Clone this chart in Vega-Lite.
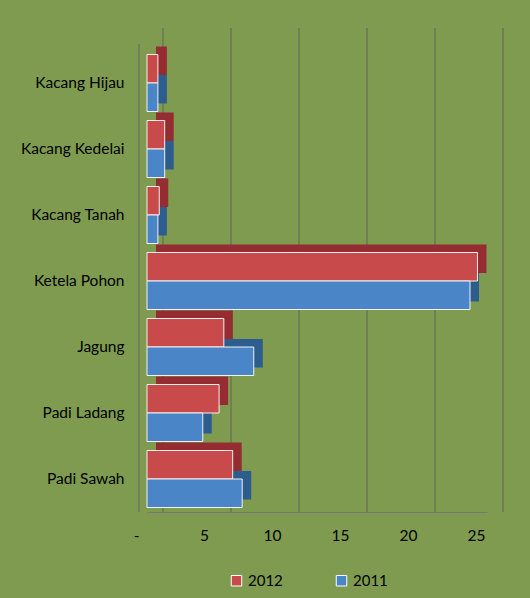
{
  "$schema": "https://vega.github.io/schema/vega-lite/v6.json",
  "autosize": {"type": "none"},
  "width": 340,
  "height": 462,
  "padding": {"left": 147, "top": 50, "right": 43, "bottom": 86},
  "background": "#7f9b50",
  "config": {
    "view": {"stroke": null},
    "font": "Lato",
    "axis": {"labelFont": "Lato", "labelColor": "#000000", "labelFontSize": 15.5},
    "legend": {"labelFont": "Lato", "labelColor": "#000000", "labelFontSize": 15}
  },
  "datasets": {
    "bars": [
      {"crop": "Kacang Hijau", "year": "2012", "value": 0.8},
      {"crop": "Kacang Hijau", "year": "2011", "value": 0.8},
      {"crop": "Kacang Kedelai", "year": "2012", "value": 1.3},
      {"crop": "Kacang Kedelai", "year": "2011", "value": 1.3},
      {"crop": "Kacang Tanah", "year": "2012", "value": 0.9},
      {"crop": "Kacang Tanah", "year": "2011", "value": 0.8},
      {"crop": "Ketela Pohon", "year": "2012", "value": 24.3},
      {"crop": "Ketela Pohon", "year": "2011", "value": 23.75},
      {"crop": "Jagung", "year": "2012", "value": 5.65},
      {"crop": "Jagung", "year": "2011", "value": 7.85},
      {"crop": "Padi Ladang", "year": "2012", "value": 5.3},
      {"crop": "Padi Ladang", "year": "2011", "value": 4.1},
      {"crop": "Padi Sawah", "year": "2012", "value": 6.3},
      {"crop": "Padi Sawah", "year": "2011", "value": 7.0}
    ],
    "grid": [{"v": 0}, {"v": 5}, {"v": 10}, {"v": 15}, {"v": 20}, {"v": 25}]
  },
  "layer": [
    {
      "data": {"name": "grid"},
      "mark": {"type": "rule", "color": "#555555", "strokeWidth": 1, "opacity": 0.8, "xOffset": 16, "yOffset": -22, "y2Offset": -19},
      "encoding": {
        "x": {"field": "v", "type": "quantitative", "scale": {"domain": [0, 25], "nice": false, "zero": true}, "axis": {"title": null, "values": [0, 5, 10, 15, 20, 25], "grid": false, "ticks": false, "domain": true, "domainColor": "#777777", "labelOffset": -11, "labelFlush": false, "labelPadding": 16, "labelExpr": "datum.value == 0 ? '-' : datum.label"}}
      }
    },
    {
      "data": {"name": "grid"},
      "transform": [{"filter": "datum.v == 0"}],
      "mark": {"type": "rule", "color": "#666666", "strokeWidth": 1, "xOffset": -8, "yOffset": -6, "y2Offset": 0},
      "encoding": {
        "x": {"field": "v", "type": "quantitative", "scale": {"domain": [0, 25], "nice": false}}
      }
    },
    {
      "data": {"name": "bars"},
      "mark": {"type": "bar", "xOffset": 9},
      "encoding": {
        "y": {"field": "crop", "type": "nominal", "sort": ["Kacang Hijau", "Kacang Kedelai", "Kacang Tanah", "Ketela Pohon", "Jagung", "Padi Ladang", "Padi Sawah"], "scale": {"range": [-8, 454], "paddingInner": 0.136, "paddingOuter": 0.068}, "axis": null},
        "yOffset": {"field": "year", "type": "nominal", "sort": ["2012", "2011"], "scale": {"paddingInner": 0, "paddingOuter": 0}},
        "x": {"field": "value", "type": "quantitative", "scale": {"domain": [0, 25], "nice": false}},
        "fill": {"condition": {"test": "datum.year == '2012'", "value": "#952c32"}, "value": "#2d5c8e"}
      }
    },
    {
      "data": {"name": "bars"},
      "mark": {"type": "bar", "stroke": "#f4f0ee", "strokeWidth": 1},
      "encoding": {
        "y": {"field": "crop", "type": "nominal", "sort": ["Kacang Hijau", "Kacang Kedelai", "Kacang Tanah", "Ketela Pohon", "Jagung", "Padi Ladang", "Padi Sawah"], "scale": {"paddingInner": 0.136, "paddingOuter": 0.068}, "axis": {"title": null, "domain": false, "ticks": false, "labelPadding": 23}},
        "yOffset": {"field": "year", "type": "nominal", "sort": ["2012", "2011"], "scale": {"paddingInner": 0, "paddingOuter": 0}},
        "x": {"field": "value", "type": "quantitative", "scale": {"domain": [0, 25], "nice": false}},
        "color": {"field": "year", "type": "nominal", "scale": {"domain": ["2012", "2011"], "range": ["#c94a4b", "#4a85c7"]}, "legend": {"title": null, "orient": "none", "direction": "horizontal", "legendX": 82, "legendY": 523, "symbolType": "square", "symbolSize": 110, "symbolOpacity": 1, "symbolStrokeColor": "#ffffff", "symbolStrokeWidth": 1, "columnPadding": 51, "labelOffset": 4}}
      }
    }
  ],
  "resolve": {"scale": {"y": "independent", "yOffset": "independent", "x": "shared"}}
}
